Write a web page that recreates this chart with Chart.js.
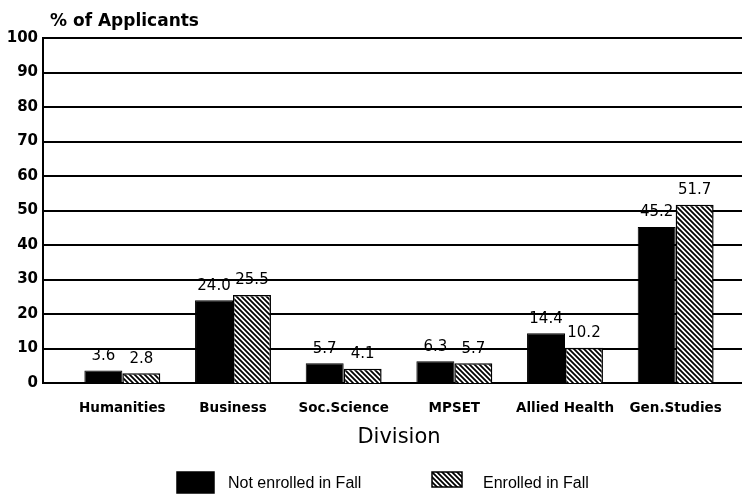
<!DOCTYPE html>
<html>
<head>
<meta charset="utf-8">
<script src="https://cdn.jsdelivr.net/npm/chart.js@4/dist/chart.umd.min.js"></script>
<style>
  html, body { margin: 0; padding: 0; background: #fff; }
  #wrap { width: 742px; height: 502px; }
</style>
</head>
<body>
<div id="wrap"><canvas id="divisionChart"></canvas></div>
<script>
// data
const divisions = ['Humanities', 'Business', 'Soc.Science', 'MPSET', 'Allied Health', 'Gen.Studies'];
const notEnrolled = [3.6, 24.0, 5.7, 6.3, 14.4, 45.2];
const enrolled = [2.8, 25.5, 4.1, 5.7, 10.2, 51.7];
const yTicks = [0, 10, 20, 30, 40, 50, 60, 70, 80, 90, 100];

const SANS = '"Liberation Sans", Arial, sans-serif';
const WIDE = '"DejaVu Sans", Verdana, sans-serif';

function hatchPattern() {
    const s = 5;
    const c = document.createElement('canvas');
    c.width = s; c.height = s;
    const x = c.getContext('2d');
    x.fillStyle = '#fff';
    x.fillRect(0, 0, s, s);
    x.strokeStyle = '#000';
    x.lineWidth = 1.8;
    x.beginPath();
    x.moveTo(-1, -1); x.lineTo(s + 1, s + 1);
    x.moveTo(-1, s - 1); x.lineTo(1, s + 1);
    x.moveTo(s - 1, -1); x.lineTo(s + 1, 1);
    x.stroke();
    return x.createPattern(c, 'repeat');
}

// grid lines run from the axis line to the right edge of the page
const axisFrame = {
    id: 'axisFrame',
    beforeDatasetsDraw(chart) {
        const ctx = chart.ctx;
        const y = chart.scales.y;
        const axisX = 43;
        ctx.save();
        ctx.strokeStyle = '#000';
        ctx.lineWidth = 2;
        ctx.beginPath();
        yTicks.forEach(v => {
            const py = Math.round(y.getPixelForValue(v));
            ctx.moveTo(axisX, py);
            ctx.lineTo(chart.width, py);
        });
        ctx.moveTo(axisX, y.getPixelForValue(100) - 1);
        ctx.lineTo(axisX, y.getPixelForValue(0) + 1);
        ctx.stroke();
        ctx.restore();
    }
};

// value labels above each bar
const valueLabels = {
    id: 'valueLabels',
    afterDatasetsDraw(chart) {
        const ctx = chart.ctx;
        ctx.save();
        ctx.fillStyle = '#000';
        ctx.font = '15px ' + WIDE;
        ctx.textAlign = 'center';
        ctx.textBaseline = 'bottom';
        chart.data.datasets.forEach((ds, i) => {
            chart.getDatasetMeta(i).data.forEach((bar, j) => {
                ctx.fillText(ds.data[j].toFixed(1), bar.x, bar.y - 7);
            });
        });
        ctx.restore();
    }
};

// caption + legend placed like the printed figure
const captionAndLegend = {
    id: 'captionAndLegend',
    afterDraw(chart) {
        const ctx = chart.ctx;
        ctx.save();
        ctx.fillStyle = '#000';
        ctx.font = 'bold 17px ' + WIDE;
        ctx.textAlign = 'left';
        ctx.textBaseline = 'alphabetic';
        ctx.fillText('% of Applicants', 50, 26);

        const keys = [
            { x: 177, w: 37, h: 21, textX: 228 },
            { x: 432, w: 30, h: 15, textX: 483 }
        ];
        ctx.font = '16px ' + SANS;
        ctx.textBaseline = 'middle';
        chart.data.datasets.forEach((ds, i) => {
            const k = keys[i];
            ctx.fillStyle = ds.backgroundColor;
            ctx.fillRect(k.x, 472, k.w, k.h);
            ctx.strokeStyle = '#000';
            ctx.lineWidth = 1.5;
            ctx.strokeRect(k.x, 472, k.w, k.h);
            ctx.fillStyle = '#000';
            ctx.fillText(ds.label, k.textX, 484);
        });
        ctx.restore();
    }
};

const ctx = document.getElementById('divisionChart').getContext('2d');
new Chart(ctx, {
    type: 'bar',
    data: {
        labels: divisions,
        datasets: [{
            label: 'Not enrolled in Fall',
            data: notEnrolled,
            backgroundColor: '#000',
            borderColor: '#000',
            borderWidth: 1
        }, {
            label: 'Enrolled in Fall',
            data: enrolled,
            backgroundColor: hatchPattern(),
            borderColor: '#000',
            borderWidth: 1.5
        }]
    },
    options: {
        responsive: true,
        maintainAspectRatio: false,
        animation: false,
        layout: { padding: { top: 38, right: 11, left: 6, bottom: 52 } },
        datasets: { bar: { categoryPercentage: 0.686, barPercentage: 1.0 } },
        scales: {
            x: {
                afterFit(axis) { axis.height = 67; },
                grid: { display: false, drawTicks: false },
                border: { display: false },
                ticks: { color: '#000', font: { family: WIDE, size: 13.5, weight: 'bold' }, maxRotation: 0, autoSkip: false, padding: 17 },
                title: { display: true, text: 'Division', color: '#000', font: { family: WIDE, size: 21 }, padding: { top: 1, bottom: 0 } }
            },
            y: {
                min: 0,
                max: 100,
                afterBuildTicks(axis) { axis.ticks = yTicks.map(v => ({ value: v })); },
                afterFit(axis) { axis.width = 61; },
                grid: { display: false, drawTicks: false },
                border: { display: false },
                ticks: { color: '#000', font: { family: WIDE, size: 15, weight: 'bold' }, padding: 29 }
            }
        },
        plugins: {
            legend: { display: false },
            tooltip: { enabled: false }
        }
    },
    plugins: [axisFrame, valueLabels, captionAndLegend]
});
</script>
</body>
</html>
